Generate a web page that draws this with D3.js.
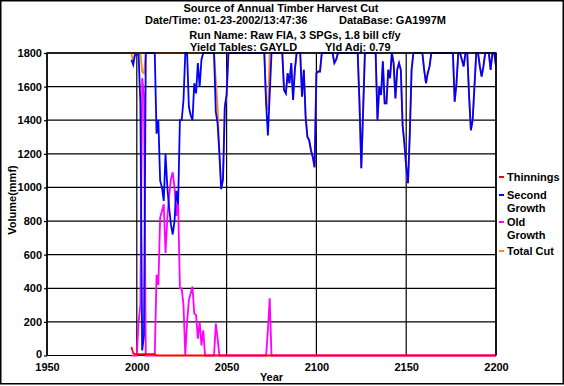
<!DOCTYPE html>
<html>
<head>
<meta charset="utf-8">
<script src="https://cdn.jsdelivr.net/npm/d3@7"></script>
<style>
  body { margin: 0; background: #fff; }
  text { font-family: "Liberation Sans", Arial, sans-serif; font-weight: bold; font-size: 11px; fill: #000; }
</style>
</head>
<body>
<svg id="chart" width="564" height="386"></svg>
<script>
// one value per year, 1997..2200
const firstYear = 1997;

const secondGrowth = [
  1760, 1730, 1790,
  1790, 1790, 1500, 30, 120, 1800, 1800, 1800, 1800, 1800,
  1800, 1320, 1400, 1040, 1000, 920, 1200, 1000, 880, 780,
  720, 800, 980, 900, 1400, 1400, 1520, 1800, 1800, 1480,
  1430, 1400, 1620, 1560, 1740, 1600, 1760, 1800, 1800, 1800,
  1800, 1800, 1800, 1800, 1450, 1380, 1200, 990, 1050, 1480,
  1550, 1800, 1800, 1800, 1800, 1800, 1800, 1800, 1800, 1800,
  1800, 1800, 1800, 1800, 1800, 1800, 1800, 1800, 1800, 1800,
  1800, 1800, 1500, 1310, 1550, 1800, 1800, 1800, 1800, 1800,
  1800, 1800, 1580, 1560, 1680, 1620, 1740, 1520, 1700, 1800,
  1800, 1800, 1540, 1700, 1420, 1300, 1280, 1220, 1180, 1120,
  1680, 1690, 1690, 1800, 1800, 1800, 1800, 1800, 1800, 1800,
  1740, 1760, 1800, 1800, 1800, 1800, 1800, 1800, 1800, 1800,
  1800, 1800, 1800, 1800, 1500, 1115, 1450, 1800, 1800, 1800,
  1800, 1800, 1800, 1800, 1395, 1600, 1550, 1750, 1500, 1500,
  1700, 1650, 1800, 1740, 1530, 1700, 1740, 1700, 1370, 1260,
  1125, 1025, 1320, 1700, 1800, 1800, 1800, 1800, 1800, 1800,
  1700, 1620, 1680, 1720, 1800, 1800, 1800, 1800, 1800, 1800,
  1800, 1800, 1800, 1800, 1800, 1800, 1800, 1510, 1620, 1800,
  1800, 1760, 1720, 1800, 1800, 1550, 1340, 1400, 1600, 1800,
  1800, 1720, 1660, 1720, 1800, 1800, 1800, 1700, 1800, 1800,
  1720
];

const oldGrowth = [
  0, 0, 0,
  0, 200, 300, 1650, 1550, 0, 0, 0, 0, 0,
  0, 480, 420, 820, 860, 900, 610, 820, 950, 1050,
  1090, 1000, 830, 920, 400, 400, 300, 0, 200, 330,
  370, 410, 250, 240, 100, 200, 60, 150, 0, 0,
  0, 0, 0, 0, 190, 100, 0, 0, 0, 0,
  0, 0, 0, 0, 0, 0, 0, 0, 0, 0,
  0, 0, 0, 0, 0, 0, 0, 0, 0, 0,
  0, 0, 0, 150, 340, 0, 0, 0, 0, 0,
  0, 0, 0, 0, 0, 0, 0, 0, 0, 0,
  0, 0, 0, 0, 0, 0, 0, 0, 0, 0,
  0, 0, 0, 0, 0, 0, 0, 0, 0, 0,
  0, 0, 0, 0, 0, 0, 0, 0, 0, 0,
  0, 0, 0, 0, 0, 0, 0, 0, 0, 0,
  0, 0, 0, 0, 0, 0, 0, 0, 0, 0,
  0, 0, 0, 0, 0, 0, 0, 0, 0, 0,
  0, 0, 0, 0, 0, 0, 0, 0, 0, 0,
  0, 0, 0, 0, 0, 0, 0, 0, 0, 0,
  0, 0, 0, 0, 0, 0, 0, 0, 0, 0,
  0, 0, 0, 0, 0, 0, 0, 0, 0, 0,
  0, 0, 0, 0, 0, 0, 0, 0, 0, 0,
  0
];

const thinnings = [
  50, 15, 8,
  8, 8, 8, 8, 8, 8, 8, 8, 8, 8,
  8, 0, 0, 0, 0, 0, 0, 0, 0, 0,
  0, 0, 0, 0, 0, 0, 0, 0, 0, 0,
  0, 0, 0, 0, 0, 0, 0, 0, 0, 0,
  0, 0, 0, 0, 0, 0, 0, 0, 0, 0,
  0, 0, 0, 0, 0, 0, 0, 0, 0, 0,
  0, 0, 0, 0, 0, 0, 0, 0, 0, 0,
  0, 0, 0, 0, 0, 0, 0, 0, 0, 0,
  0, 0, 0, 0, 0, 0, 0, 0, 0, 0,
  0, 0, 0, 0, 0, 0, 0, 0, 0, 0,
  0, 0, 0, 0, 0, 0, 0, 0, 0, 0,
  0, 0, 0, 0, 0, 0, 0, 0, 0, 0,
  0, 0, 0, 0, 0, 0, 0, 0, 0, 0,
  0, 0, 0, 0, 0, 0, 0, 0, 0, 0,
  0, 0, 0, 0, 0, 0, 0, 0, 0, 0,
  0, 0, 0, 0, 0, 0, 0, 0, 0, 0,
  0, 0, 0, 0, 0, 0, 0, 0, 0, 0,
  0, 0, 0, 0, 0, 0, 0, 0, 0, 0,
  0, 0, 0, 0, 0, 0, 0, 0, 0, 0,
  0, 0, 0, 0, 0, 0, 0, 0, 0, 0,
  0
];

// total cut is the sum of the three harvest sources
const totalCut = secondGrowth.map((v, i) => v + oldGrowth[i] + thinnings[i]);

const xTicks = [1950, 2000, 2050, 2100, 2150, 2200];
const yTicks = [0, 200, 400, 600, 800, 1000, 1200, 1400, 1600, 1800];

const titleLines = [
  "Source of Annual Timber Harvest Cut",
  "Run Name: Raw FIA, 3 SPGs, 1.8 bill cf/y"
];

const legendItems = [
  { lines: ["Thinnings"], color: "#ff0000" },
  { lines: ["Second", "Growth"], color: "#0000ff" },
  { lines: ["Old", "Growth"], color: "#ff00ff" },
  { lines: ["Total Cut"], color: "#ff8c1a" }
];

const svg = d3.select("#chart");

const x = d3.scaleLinear().domain([1950, 2200]).range([47, 496]);
const y = d3.scaleLinear().domain([0, 1800]).range([355.5, 53]).clamp(true);

// outer frame
svg.append("rect")
  .attr("x", 0.75).attr("y", 0.75)
  .attr("width", 562.5).attr("height", 383)
  .attr("fill", "#fff").attr("stroke", "#000").attr("stroke-width", 1.5);

// header text
svg.append("text").attr("x", 281).attr("y", 12).attr("text-anchor", "middle").text(titleLines[0]);
svg.append("text").attr("x", 145).attr("y", 24).text("Date/Time: 01-23-2002/13:47:36");
svg.append("text").attr("x", 339).attr("y", 24).text("DataBase: GA1997M");
svg.append("text").attr("x", 295).attr("y", 39).attr("text-anchor", "middle").text(titleLines[1]);
svg.append("text").attr("x", 190).attr("y", 51).text("Yield Tables: GAYLD");
svg.append("text").attr("x", 325).attr("y", 51).text("Yld Adj: 0.79");

// grid
const grid = svg.append("g").attr("stroke", "#000").attr("stroke-width", 1.2);
grid.selectAll("line.h").data(yTicks).join("line")
  .attr("class", "h")
  .attr("x1", x(1950)).attr("x2", x(2200))
  .attr("y1", d => y(d)).attr("y2", d => y(d));
grid.selectAll("line.v").data(xTicks).join("line")
  .attr("class", "v")
  .attr("x1", d => x(d)).attr("x2", d => x(d))
  .attr("y1", y(0)).attr("y2", y(1800));

// axes
const yAxis = svg.append("g")
  .attr("transform", `translate(${x(1950)},0)`)
  .call(d3.axisLeft(y).tickValues(yTicks).tickSize(3).tickPadding(2).tickFormat(d3.format("d")));
const xAxis = svg.append("g")
  .attr("transform", `translate(0,${y(0)})`)
  .call(d3.axisBottom(x).tickValues(xTicks).tickSize(0).tickPadding(8).tickFormat(d3.format("d")));
[yAxis, xAxis].forEach(a => {
  a.select(".domain").remove();
  a.selectAll("line").attr("stroke", "#000").attr("stroke-width", 1.2);
  a.selectAll("text").attr("font-family", null).attr("font-size", null).style("fill", "#000");
});
// keep the "0" label clear of the "1950" label below it
yAxis.selectAll(".tick text").filter(d => d === 0).attr("dy", "0.2em");

svg.append("text")
  .attr("x", x(2075)).attr("y", 381)
  .attr("text-anchor", "middle").text("Year");
svg.append("text")
  .attr("transform", "translate(16,200) rotate(-90)")
  .attr("text-anchor", "middle").text("Volume(mmf)");

// series
const years = secondGrowth.map((_, i) => firstYear + i);
const line = d3.line().x((d, i) => x(years[i])).y(d => y(d));

const drawOrder = [
  { values: totalCut, color: "#ff8c1a" },
  { values: oldGrowth, color: "#ff00ff" },
  { values: secondGrowth, color: "#0000ff" },
  { values: thinnings, color: "#ff0000" }
];
svg.append("g").selectAll("path").data(drawOrder).join("path")
  .attr("d", d => line(d.values))
  .attr("fill", "none")
  .attr("stroke", d => d.color)
  .attr("stroke-width", 1.8)
  .attr("stroke-linejoin", "miter");

// plot frame (left/top/right)
svg.append("path")
  .attr("d", `M${x(1950)},${y(0)}V${y(1800)}H${x(2200)}V${y(0)}`)
  .attr("fill", "none").attr("stroke", "#000").attr("stroke-width", 1.5);

// legend
const legendRows = [177, 195, 222, 251];
const legend = svg.append("g");
legendItems.forEach((item, i) => {
  const ly = legendRows[i];
  legend.append("line")
    .attr("x1", 499).attr("x2", 504)
    .attr("y1", ly).attr("y2", ly)
    .attr("stroke", item.color).attr("stroke-width", 2);
  item.lines.forEach((t, j) => {
    legend.append("text")
      .attr("x", 507).attr("y", ly + 4 + j * 13)
      .text(t);
  });
});
</script>
</body>
</html>
